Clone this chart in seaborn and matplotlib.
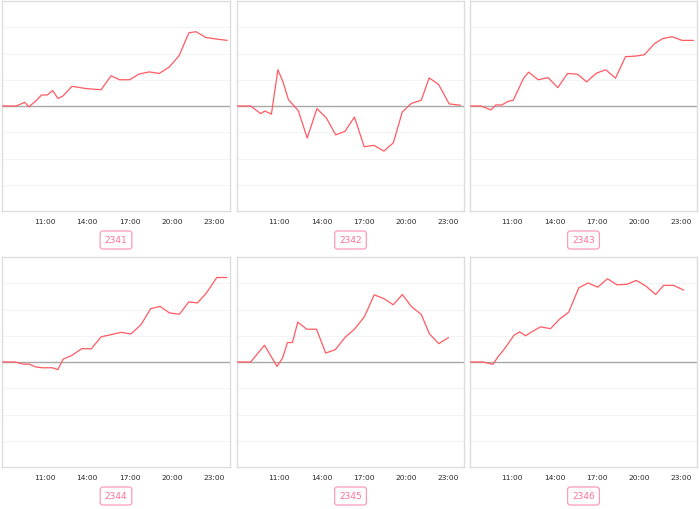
import numpy as np
import pandas as pd
import matplotlib
matplotlib.use("Agg")
import matplotlib.pyplot as plt
import seaborn as sns

# hours (decimal) and values
names = ["2341", "2342", "2343", "2344", "2345", "2346"]

t_2341 = [8.0, 9.0, 9.6, 9.9, 10.34, 10.8, 11.2, 11.57, 11.95, 12.28, 12.94, 14.0, 15.0,
          15.7, 16.3, 17.0, 17.7, 18.4, 19.1, 19.8, 20.5, 21.2, 21.7, 22.4, 23.15, 23.9]
v_2341 = [0, 0, 0.14, -0.03, 0.17, 0.42, 0.42, 0.59, 0.29, 0.37, 0.75, 0.66, 0.62,
          1.15, 1.0, 1.0, 1.22, 1.3, 1.24, 1.48, 1.91, 2.79, 2.83, 2.61, 2.55, 2.5]

t_2342 = [8.0, 8.98, 9.67, 9.98, 10.44, 10.9, 11.26, 11.65, 12.35, 12.98, 13.67, 14.33, 15.0,
          15.65, 16.33, 17.02, 17.72, 18.42, 19.09, 19.72, 20.37, 21.07, 21.63, 22.3, 23.05, 23.85]
v_2342 = [0, 0, -0.29, -0.19, -0.31, 1.38, 0.92, 0.24, -0.18, -1.22, -0.1, -0.45, -1.1,
          -0.97, -0.42, -1.55, -1.5, -1.72, -1.4, -0.23, 0.1, 0.22, 1.07, 0.82, 0.08, 0.03]

t_2343 = [8.0, 8.77, 9.48, 9.84, 10.26, 10.71, 11.07, 11.8, 12.16, 12.83, 13.54, 14.23, 14.92,
          15.63, 16.27, 16.96, 17.63, 18.32, 19.03, 19.72, 20.36, 21.1, 21.67, 22.33, 23.04, 23.85]
v_2343 = [0, 0, -0.15, 0.04, 0.04, 0.18, 0.22, 1.06, 1.29, 1.0, 1.08, 0.7, 1.24,
          1.21, 0.92, 1.25, 1.38, 1.06, 1.88, 1.9, 1.95, 2.38, 2.57, 2.64, 2.5, 2.5]

t_2344 = [8.0, 8.92, 9.49, 9.92, 10.39, 10.86, 11.57, 11.94, 12.32, 12.93, 13.64, 14.3, 15.0,
          15.69, 16.4, 17.1, 17.8, 18.5, 19.16, 19.82, 20.53, 21.19, 21.8, 22.42, 23.17, 23.88]
v_2344 = [0, 0, -0.08, -0.08, -0.19, -0.22, -0.22, -0.29, 0.11, 0.25, 0.51, 0.5, 0.96,
          1.04, 1.13, 1.07, 1.41, 2.03, 2.12, 1.87, 1.82, 2.29, 2.25, 2.62, 3.22, 3.22]

t_2345 = [8.0, 8.97, 9.95, 10.84, 11.23, 11.58, 11.93, 12.31, 12.94, 13.64, 14.29, 14.97,
          15.67, 16.33, 17.03, 17.73, 18.43, 19.08, 19.73, 20.37, 21.07, 21.65, 22.31, 23.0]
v_2345 = [0, 0, 0.64, -0.17, 0.15, 0.74, 0.74, 1.52, 1.25, 1.25, 0.34, 0.47,
          0.94, 1.25, 1.72, 2.56, 2.41, 2.18, 2.57, 2.11, 1.81, 1.07, 0.7, 0.93]

t_2346 = [8.0, 8.92, 9.63, 9.99, 10.46, 11.12, 11.52, 11.94, 12.42, 13.0, 13.71, 14.35, 15.0,
          15.72, 16.38, 17.06, 17.75, 18.43, 19.14, 19.8, 20.48, 21.17, 21.73, 22.44, 23.15]
v_2346 = [0, 0, -0.09, 0.2, 0.51, 1.02, 1.15, 1.0, 1.16, 1.34, 1.27, 1.63, 1.9,
          2.83, 3.01, 2.85, 3.17, 2.94, 2.96, 3.11, 2.89, 2.57, 2.92, 2.92, 2.74]

series = [(t_2341, v_2341), (t_2342, v_2342), (t_2343, v_2343),
          (t_2344, v_2344), (t_2345, v_2345), (t_2346, v_2346)]

tick_hours = [11, 14, 17, 20, 23]
tick_labels = ["11:00", "14:00", "17:00", "20:00", "23:00"]

sns.set_style("white")
plt.rcParams["font.family"] = ["DejaVu Sans"]

W, H = 700, 510
fig = plt.figure(figsize=(7, 5.1), dpi=100)

col_x = [2, 237, 470]
col_w = [228, 227, 227]
row_y = [2, 258]
ax_h = 210

for i, name in enumerate(names):
    r, c = divmod(i, 3)
    x0, w, y0 = col_x[c], col_w[c], row_y[r]
    ax = fig.add_axes([x0 / W, 1 - (y0 + ax_h) / H, w / W, ax_h / H])
    t, v = series[i]
    df = pd.DataFrame({"hour": t, "value": v})

    for g in range(-3, 4):
        if g != 0:
            ax.axhline(g, color="#f4f4f4", lw=0.8, zorder=0)
    ax.axhline(0, color="#a8a8a8", lw=1.0, zorder=1)

    sns.lineplot(data=df, x="hour", y="value", ax=ax, color="#ff5a62", lw=0.9, zorder=3)

    ax.set_xlim(8, 24.1)
    ax.set_ylim(-4, 4)
    ax.set_yticks([])
    ax.set_xticks(tick_hours)
    ax.set_xticklabels(tick_labels, fontsize=5.4, color="#2a2a2a")
    ax.tick_params(axis="x", length=2, width=0.6, color="#dddddd", pad=3)
    ax.set_xlabel("")
    ax.set_ylabel("")
    for s in ax.spines.values():
        s.set_color("#dddddd")
        s.set_linewidth(1.0)

    # label badge under the panel
    fig.text((x0 + w / 2) / W, 1 - (y0 + ax_h + 29) / H, name, ha="center", va="center",
             fontsize=6.5, color="#ff6f96",
             bbox=dict(boxstyle="round,pad=0.5,rounding_size=0.3", fc="white",
                       ec="#ff9bb8", lw=0.9))

fig.savefig("out.png", dpi=100)
